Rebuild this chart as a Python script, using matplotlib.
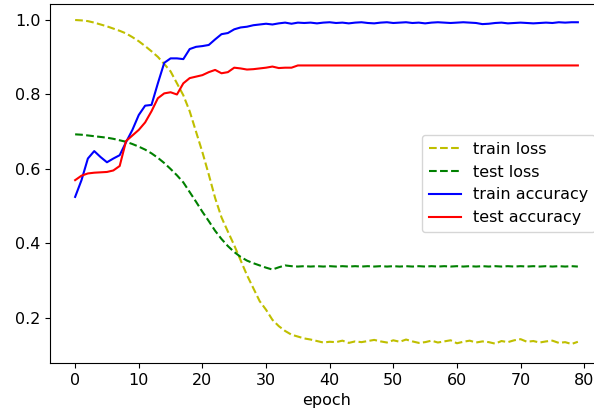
import matplotlib
matplotlib.use("Agg")
import matplotlib.pyplot as plt
import numpy as np

epochs = list(range(80))

train_loss = [1.000, 0.999, 0.997, 0.993, 0.988, 0.983, 0.977, 0.971, 0.964, 0.954,
              0.943, 0.930, 0.916, 0.901, 0.882, 0.862, 0.830, 0.798, 0.755, 0.700,
              0.645, 0.585, 0.522, 0.470, 0.432, 0.395, 0.355, 0.315, 0.280, 0.245,
              0.222, 0.195, 0.178, 0.165, 0.155, 0.150, 0.145, 0.142, 0.138, 0.134,
              0.136, 0.135, 0.139, 0.133, 0.137, 0.135, 0.138, 0.141, 0.137, 0.134,
              0.140, 0.136, 0.142, 0.137, 0.133, 0.135, 0.139, 0.134, 0.137, 0.140,
              0.132, 0.136, 0.139, 0.134, 0.137, 0.135, 0.131, 0.138, 0.135, 0.140,
              0.143, 0.136, 0.138, 0.134, 0.137, 0.139, 0.133, 0.135, 0.130, 0.136]

test_loss = [0.693, 0.692, 0.690, 0.688, 0.686, 0.684, 0.681, 0.677, 0.673, 0.667,
             0.660, 0.652, 0.642, 0.630, 0.616, 0.600, 0.583, 0.564, 0.538, 0.512,
             0.485, 0.460, 0.434, 0.412, 0.393, 0.377, 0.364, 0.354, 0.347, 0.341,
             0.335, 0.330, 0.336, 0.341, 0.339, 0.338, 0.339, 0.338, 0.339, 0.338,
             0.339, 0.338, 0.339, 0.338, 0.339, 0.338, 0.339, 0.338, 0.339, 0.338,
             0.339, 0.338, 0.339, 0.338, 0.339, 0.338, 0.339, 0.338, 0.339, 0.338,
             0.339, 0.338, 0.339, 0.338, 0.339, 0.338, 0.339, 0.338, 0.339, 0.338,
             0.339, 0.338, 0.339, 0.338, 0.339, 0.338, 0.339, 0.338, 0.339, 0.338]

train_acc = [0.525, 0.570, 0.628, 0.648, 0.632, 0.618, 0.628, 0.637, 0.672, 0.705,
             0.745, 0.770, 0.772, 0.830, 0.885, 0.897, 0.897, 0.895, 0.922, 0.928,
             0.930, 0.933, 0.948, 0.962, 0.965, 0.975, 0.980, 0.982, 0.986, 0.988,
             0.990, 0.988, 0.991, 0.993, 0.990, 0.993, 0.992, 0.993, 0.991, 0.993,
             0.994, 0.992, 0.993, 0.991, 0.993, 0.994, 0.992, 0.991, 0.993, 0.994,
             0.992, 0.993, 0.994, 0.992, 0.993, 0.991, 0.993, 0.994, 0.993, 0.992,
             0.993, 0.994, 0.993, 0.992, 0.989, 0.990, 0.992, 0.993, 0.991, 0.992,
             0.993, 0.992, 0.991, 0.992, 0.993, 0.992, 0.994, 0.993, 0.994, 0.994]

test_acc = [0.570, 0.582, 0.588, 0.590, 0.591, 0.592, 0.596, 0.608, 0.675, 0.690,
            0.705, 0.725, 0.755, 0.790, 0.803, 0.806, 0.800, 0.830, 0.844, 0.848,
            0.852, 0.860, 0.866, 0.857, 0.860, 0.872, 0.870, 0.867, 0.868, 0.870,
            0.872, 0.875, 0.871, 0.872, 0.872, 0.878, 0.878, 0.878, 0.878, 0.878,
            0.878, 0.878, 0.878, 0.878, 0.878, 0.878, 0.878, 0.878, 0.878, 0.878,
            0.878, 0.878, 0.878, 0.878, 0.878, 0.878, 0.878, 0.878, 0.878, 0.878,
            0.878, 0.878, 0.878, 0.878, 0.878, 0.878, 0.878, 0.878, 0.878, 0.878,
            0.878, 0.878, 0.878, 0.878, 0.878, 0.878, 0.878, 0.878, 0.878, 0.878]

plt.rcParams['font.size'] = 11.5

fig = plt.figure(figsize=(5.94, 4.17), dpi=100)
ax = fig.add_axes([50/594, (417-363)/417, (603-50)/594, (363-4)/417])

ax.plot(epochs, train_loss, '--', color='#bfbf00', lw=1.5, label='train loss')
ax.plot(epochs, test_loss, '--', color='#008000', lw=1.5, label='test loss')
ax.plot(epochs, train_acc, '-', color='#0000ff', lw=1.5, label='train accuracy')
ax.plot(epochs, test_acc, '-', color='#ff0000', lw=1.5, label='test accuracy')

ax.set_xlim(-3.95, 82.95)
ax.set_ylim(0.079, 1.043)
ax.set_xticks([0, 10, 20, 30, 40, 50, 60, 70, 80])
ax.set_yticks([0.2, 0.4, 0.6, 0.8, 1.0])
ax.set_xlabel('epoch')
ax.legend(loc='center right')

fig.savefig('out.png', dpi=100)
